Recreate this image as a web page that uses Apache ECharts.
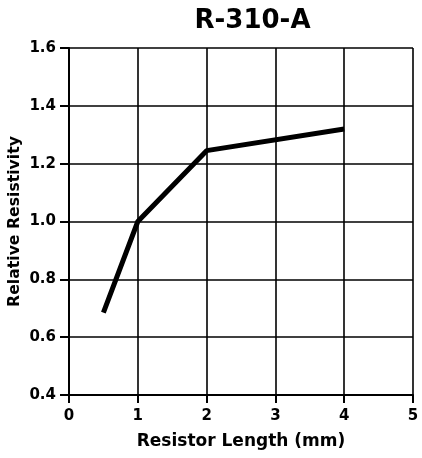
<!DOCTYPE html>
<html><head><meta charset="utf-8">
<script src="https://cdn.jsdelivr.net/npm/echarts@6/dist/echarts.min.js"></script>
<style>html,body{margin:0;padding:0;background:#fff}#c{width:422px;height:458px}</style>
</head><body><div id="c"></div>
<script>
const title = "R-310-A";
const xName = "Resistor Length (mm)";
const yName = "Relative Resistivity";
const lengths = [0.5, 1, 2, 4];
const resistivity = [0.685, 1.0, 1.245, 1.32];

const chart = echarts.init(document.getElementById('c'));
const font = 'DejaVu Sans, sans-serif';
chart.setOption({
  animation: false,
  title: { text: title, left: 247.5, textAlign: 'center', top: 3,
    textStyle: { fontFamily: font, fontWeight: 'bold', fontSize: 26, color: '#000' } },
  grid: { left: 69, right: 9, top: 48, bottom: 63, outerBoundsMode: 'none', containLabel: false },
  xAxis: {
    type: 'value', min: 0, max: 5, interval: 1,
    name: xName, nameLocation: 'middle', nameGap: 38, nameMoveOverlap: false,
    nameTextStyle: { fontFamily: font, fontWeight: 'bold', fontSize: 17, color: '#000' },
    axisLine: { lineStyle: { color: '#000', width: 2 } },
    axisTick: { show: true, length: 8, lineStyle: { color: '#000', width: 2 } },
    axisLabel: { fontFamily: font, fontWeight: 'bold', fontSize: 15, color: '#000', margin: 14 },
    splitLine: { show: true, lineStyle: { color: '#000', width: 1.6 } }
  },
  yAxis: {
    type: 'value', min: 0.4, max: 1.6, interval: 0.2,
    name: yName, nameLocation: 'middle', nameGap: 46, nameMoveOverlap: false,
    nameTextStyle: { fontFamily: font, fontWeight: 'bold', fontSize: 15.7, color: '#000' },
    axisLine: { show: true, lineStyle: { color: '#000', width: 2 } },
    axisTick: { show: true, length: 9, lineStyle: { color: '#000', width: 2 } },
    axisLabel: { fontFamily: font, fontWeight: 'bold', fontSize: 15, color: '#000', margin: 13,
      formatter: v => v.toFixed(1) },
    splitLine: { show: true, lineStyle: { color: '#000', width: 1.6 } }
  },
  series: [{
    type: 'line', data: lengths.map((x, i) => [x, resistivity[i]]),
    symbol: 'none', lineStyle: { color: '#000', width: 5 }
  }]
});
</script></body></html>
